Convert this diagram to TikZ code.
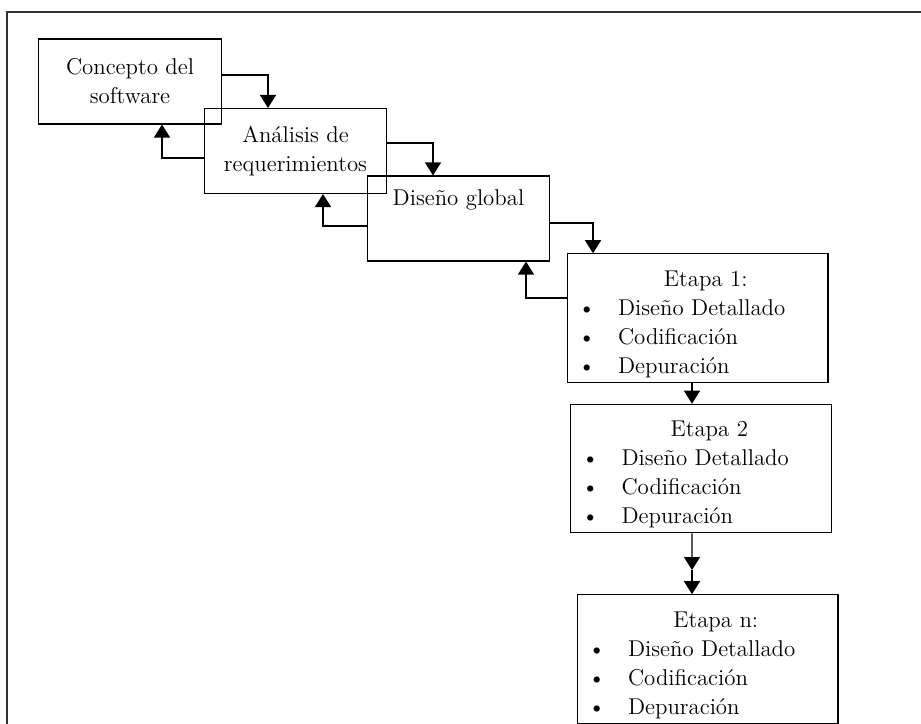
\documentclass[tikz,border=0pt]{standalone}
\usepackage{fontspec}
\usetikzlibrary{arrows.meta,positioning,calc}

\begin{document}
\begin{tikzpicture}[
    x=0.02cm, y=-0.02cm,
    every node/.style={font=\fontsize{13}{16.5}\selectfont},
    caja/.style={
        rectangle,
        draw,
        line width=0.6pt,
        minimum width=3.65cm,
        minimum height=1.7cm,
        inner sep=0pt,
        align=center
    },
    etapa/.style={
        caja,
        minimum width=5.22cm,
        minimum height=2.57cm
    },
    flecha/.style={line width=0.6pt, -{Triangle[width=0.32cm,length=0.26cm]}}
]
\useasboundingbox (0,0) rectangle (921,724);

% Marco
\draw[line width=0.6pt, black!80] (7,724) -- (7,12) -- (921,12);

% Fases iniciales
\node[caja] (concepto) at (130,81.5) {Concepto del\\software};
\node[caja] (analisis) at (295.5,151) {Análisis de\\requerimientos};
\node[caja, label={[anchor=center, yshift=-0.48cm]north:Diseño global}] (diseno) at (458.5,218.5) {};

% Etapas
\node[etapa] (e1) at (697.5,318) {
    \begin{tabular}{@{}l@{\hspace{0.45cm}}l@{\hspace{0.48cm}}}
    \multicolumn{2}{@{\hspace{0.48cm}}c@{}}{\rule{0pt}{18.5pt}Etapa 1:}\\
    \textbullet & Diseño Detallado\\
    \textbullet & Codificación\\
    \textbullet & Depuración
    \end{tabular}
};

\node[etapa] (e2) at (701,468.5) {
    \begin{tabular}{@{}l@{\hspace{0.45cm}}l@{\hspace{0.48cm}}}
    \multicolumn{2}{@{\hspace{0.48cm}}c@{}}{\rule{0pt}{18.5pt}Etapa 2}\\
    \textbullet & Diseño Detallado\\
    \textbullet & Codificación\\
    \textbullet & Depuración
    \end{tabular}
};

\node[etapa] (en) at (707.5,659) {
    \begin{tabular}{@{}l@{\hspace{0.45cm}}l@{\hspace{0.48cm}}}
    \multicolumn{2}{@{\hspace{0.48cm}}c@{}}{\rule{0pt}{18.5pt}Etapa n:}\\
    \textbullet & Diseño Detallado\\
    \textbullet & Codificación\\
    \textbullet & Depuración
    \end{tabular}
};

% Avance
\draw[flecha] ([yshift=0.13cm]concepto.east) -| ([xshift=-0.55cm]analisis.north);
\draw[flecha] ([yshift=0.16cm]analisis.east) -| ([xshift=-0.51cm]diseno.north);
\draw[flecha] ([yshift=-0.09cm]diseno.east) -| ([xshift=-2.09cm]e1.north);
\draw[flecha] ([xshift=-0.11cm]e1.south) -- ([xshift=-0.11cm]e1.south |- e2.north);
\coordinate (medio) at (692,570);
\draw[flecha] ([xshift=-0.18cm]e2.south) -- (medio);
\draw[flecha] (medio) -- (medio |- en.north);

% Retroalimentacion
\draw[flecha] ([yshift=-0.14cm]analisis.west) -| ([xshift=0.64cm]concepto.south);
\draw[flecha] ([yshift=-0.15cm]diseno.west) -| ([xshift=0.55cm]analisis.south);
\draw[flecha] ([yshift=0.4cm]e1.west) -| ([xshift=1.35cm]diseno.south);

\end{tikzpicture}
\end{document}
